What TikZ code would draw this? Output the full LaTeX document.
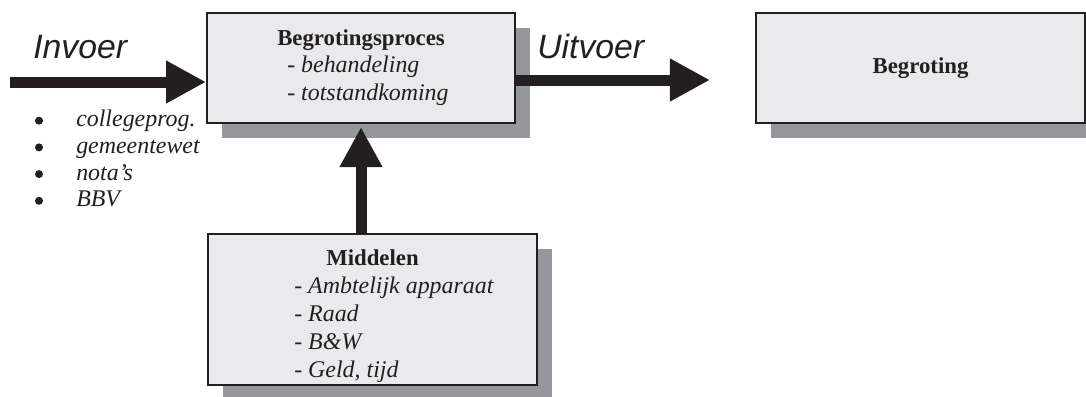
\documentclass[tikz,border=0pt]{standalone}
\usepackage{fontspec}
\setmainfont{Liberation Serif}
\newfontfamily\labelfont{Liberation Sans}
\usetikzlibrary{arrows.meta,shadows}
\definecolor{boxfill}{RGB}{234,234,236}
\definecolor{boxshadow}{RGB}{150,151,155}
\definecolor{ink}{RGB}{35,31,32}

\begin{document}
\begin{tikzpicture}[x=0.025cm, y=-0.025cm,
    box/.style={draw=ink, line width=1.3pt, fill=boxfill, inner sep=0pt,
        general shadow={fill=boxshadow, shadow xshift=15*0.025cm, shadow yshift=-15*0.025cm}},
    txt/.style={inner sep=0pt, text=ink, font=\fontsize{17}{20}\selectfont},
    kop/.style={txt, font=\fontsize{16.2}{19}\selectfont\bfseries, anchor=base},
    regel/.style={txt, font=\fontsize{17}{20}\selectfont\itshape, anchor=base west},
    bol/.style={circle, fill=ink, inner sep=0pt, minimum size=8*0.025cm},
    pijllabel/.style={inner sep=0pt, text=ink, anchor=base west,
        font=\fontsize{24}{28}\selectfont\labelfont\itshape},
    bigarrow/.style={draw=ink, line width=11*0.025cm,
        -{Triangle[length=1cm, width=1cm]}}]
    \useasboundingbox (0,0) rectangle (1086,396);

    % De drie blokken.
    \node[box, minimum width=308*0.025cm, minimum height=110*0.025cm] (proces) at (361, 68) {};
    \node[box, minimum width=329*0.025cm, minimum height=110*0.025cm] (begroting) at (920.5, 68) {};
    \node[box, minimum width=329*0.025cm, minimum height=151*0.025cm] (middelen) at (372.5, 309.5) {};

    % Teksten in de blokken.
    \node[kop] (prockop) at (361, 45) {Begrotingsproces};
    \node[regel] (proc1) at (287, 72) {- behandeling};
    \node[regel] (proc2) at (287, 100) {- totstandkoming};
    \node[kop] (begrkop) at (920.5, 73) {Begroting};
    \begin{scope}
        \clip (middelen.south west) rectangle (middelen.north east);
        \node[kop] (midkop) at (372.5, 265) {Middelen};
        \foreach \regeltekst [count=\i] in {Ambtelijk apparaat, Raad, B\&W, {Geld, tijd}}
            \node[regel] (mid\i) at (294, 265+28*\i) {- \regeltekst};
    \end{scope}

    % Invoer met opsomming.
    \node[pijllabel] (invoer) at (33, 58) {Invoer};
    \foreach \punt [count=\i] in {collegeprog., gemeentewet, nota's, BBV} {
        \node[bol] (bol\i) at (39, 94+26.7*\i) {};
        \node[regel] (punt\i) at (76, 100+26.7*\i) {\punt};
    }

    % Uitvoer.
    \node[pijllabel] (uitvoer) at (537, 58) {Uitvoer};

    % Pijlen.
    \coordinate (invoerbegin) at (10, 82);
    \coordinate (uitvoereind) at (710, 80);
    \coordinate (procvoet) at (361, 127);
    \draw[bigarrow] (invoerbegin) -- (invoerbegin -| proces.west);
    \draw[bigarrow] (uitvoereind -| proces.east) -- (uitvoereind);
    \draw[bigarrow] (procvoet |- middelen.north) -- (procvoet);
\end{tikzpicture}
\end{document}
